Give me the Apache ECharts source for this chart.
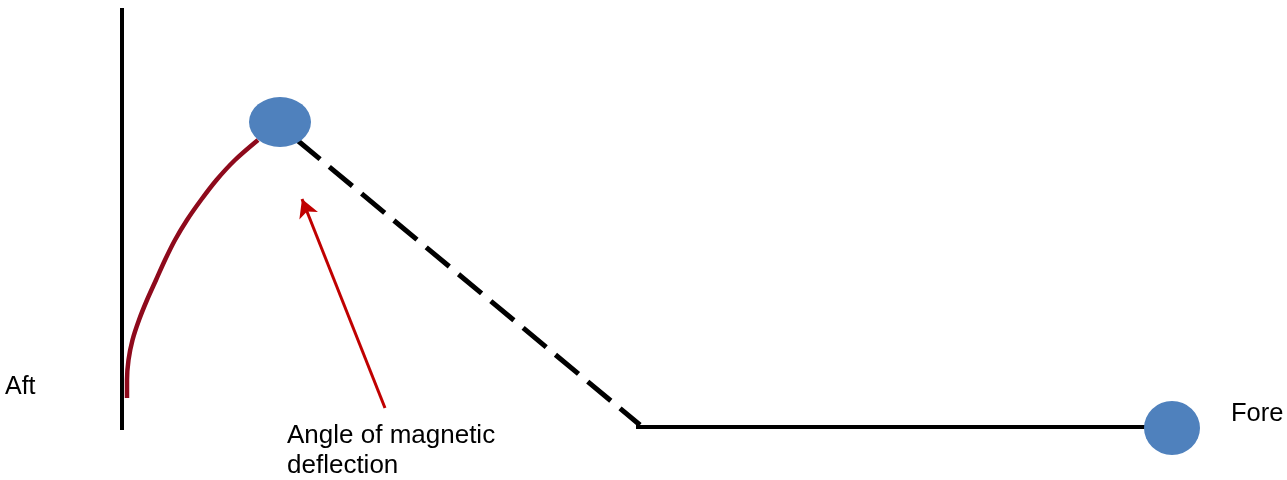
<!DOCTYPE html>
<html>
<head>
<meta charset="utf-8">
<script src="https://cdn.jsdelivr.net/npm/echarts@6/dist/echarts.min.js"></script>
<style>html,body{margin:0;padding:0;background:#fff}#c{width:1287px;height:480px}</style>
</head>
<body>
<div id="c"></div>
<script>
// Diagram geometry (in diagram units = page pixels of the reference)
const mastLine = [[122, 8], [122, 430]];
const arcPoints = [[127, 398], [127, 380], [128.5, 360], [132.5, 340], [139, 320], [147, 300], [156, 280], [165, 260], [175, 240], [187, 220], [201, 200], [216.5, 180], [235, 160], [258, 140]];
const dashedLine = [[297, 140], [640, 425]];
const baseLine = [[636, 427], [1150, 427]];
const aftBall = [[280, 122]];
const foreBall = [[1172, 428]];
const arrowFrom = [385, 408];
const arrowTo = [302, 199];
const labels = ['Aft', 'Angle of magnetic\ndeflection', 'Fore'];

const chart = echarts.init(document.getElementById('c'));
const ff = "'Liberation Sans', Arial, sans-serif";
chart.setOption({
  animation: false,
  grid: { left: 0, right: 0, top: 0, bottom: 0 },
  xAxis: { type: 'value', min: 0, max: 1287, show: false },
  yAxis: { type: 'value', min: 0, max: 480, inverse: true, show: false },
  series: [
    { type: 'line', data: mastLine, symbol: 'none', lineStyle: { color: '#000', width: 4 }, z: 2 },
    { type: 'line', data: arcPoints, symbol: 'none', smooth: 0.3, lineStyle: { color: '#8E0A1C', width: 4.5 }, z: 2 },
    { type: 'line', data: dashedLine, symbol: 'none', lineStyle: { color: '#000', width: 5, type: [30, 12] }, z: 2 },
    { type: 'line', data: baseLine, symbol: 'none', lineStyle: { color: '#000', width: 4 }, z: 2,
      markLine: {
        silent: true, symbol: ['none', 'arrow'], symbolSize: [15, 18], label: { show: false },
        lineStyle: { color: '#C00000', width: 3, type: 'solid' },
        data: [[{ coord: arrowFrom }, { coord: arrowTo }]]
      }
    },
    { type: 'scatter', data: aftBall, symbol: 'circle', symbolSize: [62, 50], itemStyle: { color: '#4F81BD', opacity: 1 }, z: 5 },
    { type: 'scatter', data: foreBall, symbol: 'circle', symbolSize: [56, 54], itemStyle: { color: '#4F81BD', opacity: 1 }, z: 5 }
  ],
  graphic: [
    { type: 'text', left: 5, top: 375, style: { text: labels[0], fontSize: 25, fontFamily: ff, fill: '#000' } },
    { type: 'text', left: 287, top: 421, style: { text: labels[1], fontSize: 26, fontFamily: ff, fill: '#000', lineHeight: 30 } },
    { type: 'text', left: 1231, top: 401, style: { text: labels[2], fontSize: 25.5, fontFamily: ff, fill: '#000' } }
  ]
});
</script>
</body>
</html>
